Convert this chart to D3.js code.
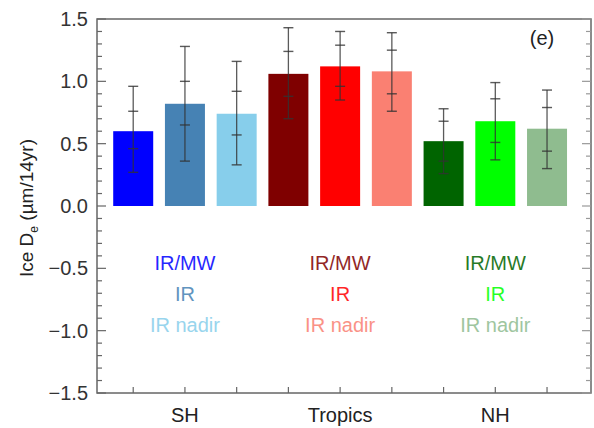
<!DOCTYPE html>
<html>
<head>
<meta charset="utf-8">
<script src="https://cdn.jsdelivr.net/npm/d3@7"></script>
<style>
  body { margin: 0; background: #fff; }
  svg text { font-family: Arial, "Liberation Sans", sans-serif; }
</style>
</head>
<body>
<div id="chart"></div>
<script>

// data
var regions = ['SH', 'Tropics', 'NH'];
var products = ['IR/MW', 'IR', 'IR nadir'];
var values   = [0.60, 0.82, 0.74,  1.06, 1.12, 1.08,  0.52, 0.68, 0.62];
var outerHi  = [0.96, 1.28, 1.16,  1.43, 1.40, 1.39,  0.78, 0.99, 0.93];
var innerHi  = [0.76, 1.00, 0.92,  1.24, 1.29, 1.25,  0.68, 0.86, 0.79];
var innerLo  = [0.46, 0.65, 0.57,  0.88, 0.96, 0.90,  0.36, 0.51, 0.44];
var outerLo  = [0.27, 0.36, 0.33,  0.70, 0.85, 0.76,  0.26, 0.37, 0.30];
var colors   = ['#0000ff', '#4682b4', '#87ceeb',
                '#7f0000', '#ff0000', '#fa8072',
                '#006400', '#00ff00', '#8fbc8f'];
var yTicks = [-1.5, -1.0, -0.5, 0.0, 0.5, 1.0, 1.5];

var W = 594, H = 428;
var pLeft = 97, pRight = 591, pTop = 19, pBottom = 393;

var svg = d3.select('#chart').append('svg')
    .attr('width', W)
    .attr('height', H);

var x = d3.scaleLinear().domain([0.3, 9.85]).range([pLeft, pRight]);
var y = d3.scaleLinear().domain([-1.5, 1.5]).range([pBottom, pTop]);

var barW = 40;
var bars = values.map(function(v, i) {
  return {i: i + 1, v: v, oh: outerHi[i], ih: innerHi[i], il: innerLo[i], ol: outerLo[i], c: colors[i]};
});

// bars
svg.selectAll('rect.bar')
  .data(bars)
  .enter().append('rect')
    .attr('class', 'bar')
    .attr('x', function(d) { return x(d.i) - barW / 2; })
    .attr('y', function(d) { return y(d.v); })
    .attr('width', barW)
    .attr('height', function(d) { return y(0) - y(d.v); })
    .attr('fill', function(d) { return d.c; });

// error bars (outer and inner)
var errCol = '#333';
var eb = svg.selectAll('g.err').data(bars).enter().append('g').attr('class', 'err');
eb.append('line')
    .attr('x1', function(d) { return x(d.i); })
    .attr('x2', function(d) { return x(d.i); })
    .attr('y1', function(d) { return y(d.oh); })
    .attr('y2', function(d) { return y(d.ol); })
    .attr('stroke', errCol).attr('stroke-width', 1.3).attr('opacity', 0.8);
['oh', 'ih', 'il', 'ol'].forEach(function(k) {
  eb.append('line')
    .attr('x1', function(d) { return x(d.i) - 5; })
    .attr('x2', function(d) { return x(d.i) + 5; })
    .attr('y1', function(d) { return y(d[k]); })
    .attr('y2', function(d) { return y(d[k]); })
    .attr('stroke', errCol).attr('stroke-width', 1.4).attr('opacity', 0.8);
});

// frame
var axCol = '#666';
svg.append('rect')
    .attr('x', pLeft).attr('y', pTop)
    .attr('width', pRight - pLeft).attr('height', pBottom - pTop)
    .attr('fill', 'none').attr('stroke', axCol).attr('stroke-width', 1.5);

// y ticks, minor every 0.1, inward on both sides
var minor = d3.range(-15, 16).map(function(k) { return k / 10; });
function isMajor(d) { return Math.abs(d * 2 - Math.round(d * 2)) < 1e-6; }
svg.selectAll('line.ytick')
  .data(minor)
  .enter().append('line')
    .attr('class', 'ytick')
    .attr('x1', pLeft)
    .attr('x2', function(d) { return pLeft + (isMajor(d) ? 9 : 5); })
    .attr('y1', function(d) { return y(d); })
    .attr('y2', function(d) { return y(d); })
    .attr('stroke', axCol).attr('stroke-width', 1.2);
svg.selectAll('line.ytickr')
  .data(minor)
  .enter().append('line')
    .attr('class', 'ytickr')
    .attr('x1', pRight)
    .attr('x2', function(d) { return pRight - (isMajor(d) ? 9 : 5); })
    .attr('y1', function(d) { return y(d); })
    .attr('y2', function(d) { return y(d); })
    .attr('stroke', '#999').attr('stroke-width', 1.2);

svg.selectAll('text.ylab')
  .data(yTicks)
  .enter().append('text')
    .attr('class', 'ylab')
    .attr('x', 88)
    .attr('y', function(d) { return y(d) + 7; })
    .attr('text-anchor', 'end')
    .attr('font-size', 20)
    .attr('fill', '#333')
    .text(function(d) { return d3.format('.1f')(d).replace('-', '\u2212'); });

// x ticks at bar centres
svg.selectAll('line.xtick')
  .data(bars)
  .enter().append('line')
    .attr('class', 'xtick')
    .attr('x1', function(d) { return x(d.i); })
    .attr('x2', function(d) { return x(d.i); })
    .attr('y1', pBottom)
    .attr('y2', pBottom - 6)
    .attr('stroke', axCol).attr('stroke-width', 1.2);

svg.selectAll('text.region')
  .data(regions)
  .enter().append('text')
    .attr('class', 'region')
    .attr('x', function(d, i) { return x(i * 3 + 2); })
    .attr('y', 422)
    .attr('text-anchor', 'middle')
    .attr('font-size', 20)
    .attr('fill', '#222')
    .text(function(d) { return d; });

// product labels inside each group
regions.forEach(function(r, g) {
  products.forEach(function(p, j) {
    svg.append('text')
      .attr('x', x(g * 3 + 2))
      .attr('y', 270 + j * 31)
      .attr('text-anchor', 'middle')
      .attr('font-size', 20)
      .attr('fill', colors[g * 3 + j])
      .attr('opacity', 0.85)
      .text(p);
  });
});

svg.append('text')
    .attr('x', 542).attr('y', 45)
    .attr('text-anchor', 'middle')
    .attr('font-size', 20)
    .attr('fill', '#222')
    .text('(e)');

// y axis title
var yt = svg.append('text')
    .attr('transform', 'translate(33,208) rotate(-90)')
    .attr('text-anchor', 'middle')
    .attr('font-size', 19)
    .attr('fill', '#222');
yt.append('tspan').text('Ice D');
yt.append('tspan').attr('font-size', 12).attr('dy', 5).text('e');
yt.append('tspan').attr('dy', -5).text(' (\u00b5m/14yr)');

</script>
</body>
</html>
